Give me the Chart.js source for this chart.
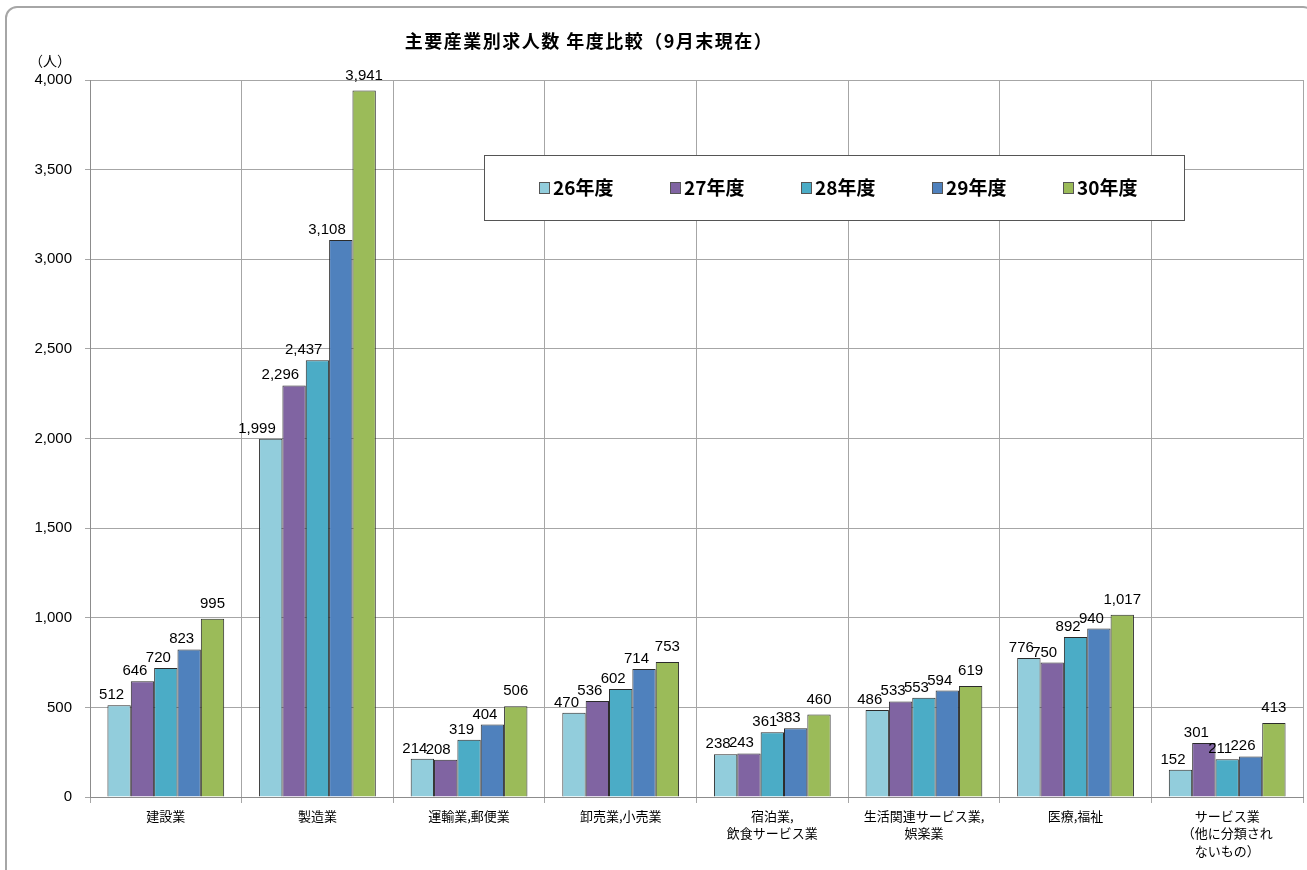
<!DOCTYPE html>
<html>
<head>
<meta charset="utf-8">
<script src="https://cdn.jsdelivr.net/npm/chart.js@4.4.0/dist/chart.umd.min.js"></script>
<style>
  html, body { margin: 0; padding: 0; background: #fff; overflow: hidden; }
  #wrap { position: relative; width: 1307px; height: 870px; }
  #frame { position: absolute; left: 5px; top: 6px; width: 1310px; height: 890px;
           border: 2px solid #a6a6a6; border-radius: 12px; box-sizing: border-box; }
  canvas { position: absolute; left: 0; top: 0; }
</style>
</head>
<body>
<div id="wrap">
  <div id="frame"></div>
  <canvas id="chart" width="1307" height="870"></canvas>
</div>
<script>
const categories = [
  ['建設業'],
  ['製造業'],
  ['運輸業,郵便業'],
  ['卸売業,小売業'],
  ['宿泊業,', '飲食サービス業'],
  ['生活関連サービス業,', '娯楽業'],
  ['医療,福祉'],
  ['サービス業', '（他に分類され', 'ないもの）']
];
const years = ['26年度', '27年度', '28年度', '29年度', '30年度'];
const fy26 = [512, 1999, 214, 470, 238, 486, 776, 152];
const fy27 = [646, 2296, 208, 536, 243, 533, 750, 301];
const fy28 = [720, 2437, 319, 602, 361, 553, 892, 211];
const fy29 = [823, 3108, 404, 714, 383, 594, 940, 226];
const fy30 = [995, 3941, 506, 753, 460, 619, 1017, 413];
const colors = ['#92cddc', '#8064a2', '#4bacc6', '#4f81bd', '#9bbb59'];

const series = [fy26, fy27, fy28, fy29, fy30];
const CJK = '"Noto Sans CJK JP", sans-serif';
const LAT = '"Liberation Sans", Arial, sans-serif';

const extras = {
  id: 'extras',
  afterDatasetsDraw(chart) {
    const ctx = chart.ctx;
    // value labels: the last year sits centred, the others lean left of their bar
    ctx.save();
    ctx.font = '15px ' + LAT;
    ctx.fillStyle = '#000';
    ctx.textBaseline = 'alphabetic';
    const last = chart.data.datasets.length - 1;
    chart.data.datasets.forEach((ds, i) => {
      chart.getDatasetMeta(i).data.forEach((bar, j) => {
        const txt = ds.data[j].toLocaleString('en-US');
        if (i === last) {
          ctx.textAlign = 'center';
          ctx.fillText(txt, bar.x, bar.y - 11);
        } else {
          ctx.textAlign = 'right';
          ctx.fillText(txt, bar.x + 5, bar.y - 6);
        }
      });
    });
    ctx.restore();
  },
  afterDraw(chart) {
    const ctx = chart.ctx;
    ctx.save();
    // title
    ctx.fillStyle = '#000';
    ctx.font = 'bold 18px ' + CJK;
    ctx.letterSpacing = '1.5px';
    ctx.textAlign = 'center';
    ctx.textBaseline = 'middle';
    ctx.fillText('主要産業別求人数 年度比較（9月末現在）', 589, 41);
    ctx.letterSpacing = '0px';
    // unit
    ctx.font = '14px ' + CJK;
    ctx.fillText('（人）', 50, 61);
    // legend box
    ctx.fillStyle = '#fff';
    ctx.fillRect(484, 155, 701, 66);
    ctx.strokeStyle = '#555';
    ctx.lineWidth = 1;
    ctx.strokeRect(484.5, 155.5, 700, 65);
    ctx.font = 'bold 19px ' + CJK;
    ctx.textAlign = 'left';
    chart.data.datasets.forEach((ds, i) => {
      const x = 539 + i * 131;
      ctx.fillStyle = ds.backgroundColor;
      ctx.fillRect(x, 182, 10, 11);
      ctx.strokeStyle = '#555';
      ctx.strokeRect(x + 0.5, 182.5, 10, 11);
      ctx.fillStyle = '#000';
      ctx.fillText(ds.label, x + 14, 188);
    });
    ctx.restore();
  }
};

new Chart(document.getElementById('chart'), {
  type: 'bar',
  data: {
    labels: categories,
    datasets: years.map((y, i) => ({
      label: y,
      data: series[i],
      backgroundColor: colors[i],
      borderColor: '#2b2b2b',
      borderWidth: 1,
      categoryPercentage: 0.77,
      barPercentage: 1.0
    }))
  },
  options: {
    responsive: false,
    animation: false,
    layout: { padding: { top: 80, right: 4, left: 0, bottom: 0 } },
    plugins: { legend: { display: false }, tooltip: { enabled: false } },
    scales: {
      x: {
        afterFit(scale) { scale.height = 73; },
        grid: { color: '#a6a6a6', offset: true, tickLength: 6 },
        border: { color: '#8c8c8c' },
        ticks: {
          color: '#000', padding: 4, maxRotation: 0, autoSkip: false,
          font: { family: CJK, size: 13, lineHeight: 1.35 }
        }
      },
      y: {
        min: 0, max: 4000,
        afterFit(scale) { scale.width = 90; },
        grid: { color: '#a6a6a6', tickLength: 5 },
        border: { color: '#8c8c8c' },
        ticks: {
          stepSize: 500, color: '#000', padding: 13,
          font: { family: LAT, size: 15 },
          callback: v => v.toLocaleString('en-US')
        }
      }
    }
  },
  plugins: [extras]
});
</script>
</body>
</html>
